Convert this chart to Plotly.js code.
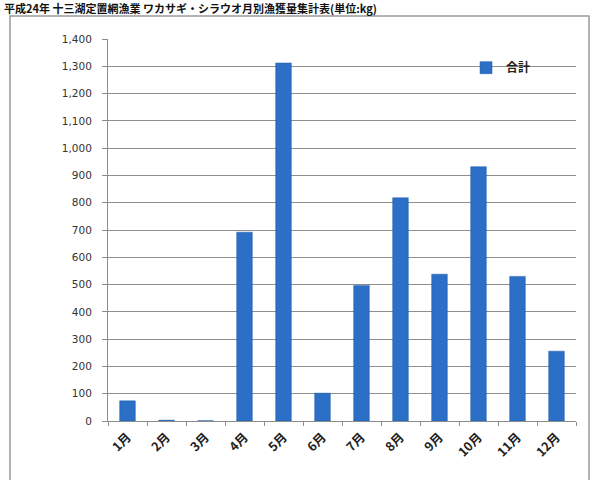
<!DOCTYPE html>
<html>
<head>
<meta charset="utf-8">
<script src="https://cdn.plot.ly/plotly-3.0.1.min.js"></script>
<style>
  html, body { margin: 0; padding: 0; background: #ffffff; }
  #chart { width: 592px; height: 480px; }
</style>
</head>
<body>
<div id="chart"></div>
<script>
// Monthly catch totals (kg)
const months = ["1月", "2月", "3月", "4月", "5月", "6月", "7月", "8月", "9月", "10月", "11月", "12月"];
const totals = [74, 3, 1, 692, 1312, 102, 497, 818, 538, 932, 530, 256];
const seriesName = "合計";
const yTicks = [0, 100, 200, 300, 400, 500, 600, 700, 800, 900, 1000, 1100, 1200, 1300, 1400];
const chartTitle = "平成24年 十三湖定置網漁業 ワカサギ・シラウオ月別漁獲量集計表(単位:kg)";

const trace = {
  type: "bar",
  x: months,
  y: totals,
  name: seriesName,
  marker: { color: "#2b6fc6", line: { color: "#1d5aa8", width: 0.5 } },
  showlegend: true
};

const layout = {
  width: 592,
  height: 480,
  paper_bgcolor: "#ffffff",
  plot_bgcolor: "#ffffff",
  margin: { l: 108, r: 16, t: 39, b: 59 },
  bargap: 0.6,
  font: { family: "DejaVu Sans, Verdana, sans-serif", color: "#333333" },
  xaxis: {
    type: "category",
    showgrid: false,
    showline: true,
    linecolor: "#8c8c8c",
    linewidth: 1,
    ticks: "outside",
    tickson: "boundaries",
    ticklen: 4,
    tickcolor: "#8c8c8c",
    tickangle: -45,
    ticklabelstandoff: 3,
    tickfont: { family: "Noto Sans CJK JP, DejaVu Sans, sans-serif", size: 12.5, color: "#222222", weight: "bold" },
    fixedrange: true
  },
  yaxis: {
    range: [0, 1400],
    tickvals: yTicks,
    tickformat: ",d",
    showgrid: true,
    gridcolor: "#8f8f8f",
    gridwidth: 1,
    showline: true,
    linecolor: "#8c8c8c",
    linewidth: 1,
    ticks: "outside",
    ticklen: 5,
    tickcolor: "#8c8c8c",
    ticklabelstandoff: 8,
    tickfont: { family: "DejaVu Sans, Verdana, sans-serif", size: 10.5, color: "#333333" },
    zeroline: false,
    fixedrange: true
  },
  legend: {
    x: 0.765,
    y: 0.925,
    xanchor: "left",
    yanchor: "middle",
    bgcolor: "rgba(255,255,255,0)",
    font: { family: "Noto Sans CJK JP, sans-serif", size: 12, color: "#222222", weight: "bold" },
    itemwidth: 30,
    tracegroupgap: 0
  },
  shapes: [
    // outer chart-area frame
    {
      type: "rect", xref: "paper", yref: "paper",
      x0: (10 - 108) / 468, x1: (589 - 108) / 468,
      y0: (421 - 490) / 382, y1: (421 - 16) / 382,
      line: { color: "#9a9a9a", width: 1.5 },
      fillcolor: "rgba(0,0,0,0)", layer: "below"
    }
  ],
  annotations: [
    {
      text: chartTitle,
      xref: "paper", yref: "paper",
      x: (3 - 108) / 468, y: (421 - 17) / 382,
      xanchor: "left", yanchor: "bottom",
      borderpad: 0,
      showarrow: false,
      font: { family: "Noto Sans CJK JP, sans-serif", size: 11, color: "#111111", weight: "bold" }
    }
  ]
};

Plotly.newPlot("chart", [trace], layout, { displayModeBar: false, staticPlot: true });
</script>
</body>
</html>
